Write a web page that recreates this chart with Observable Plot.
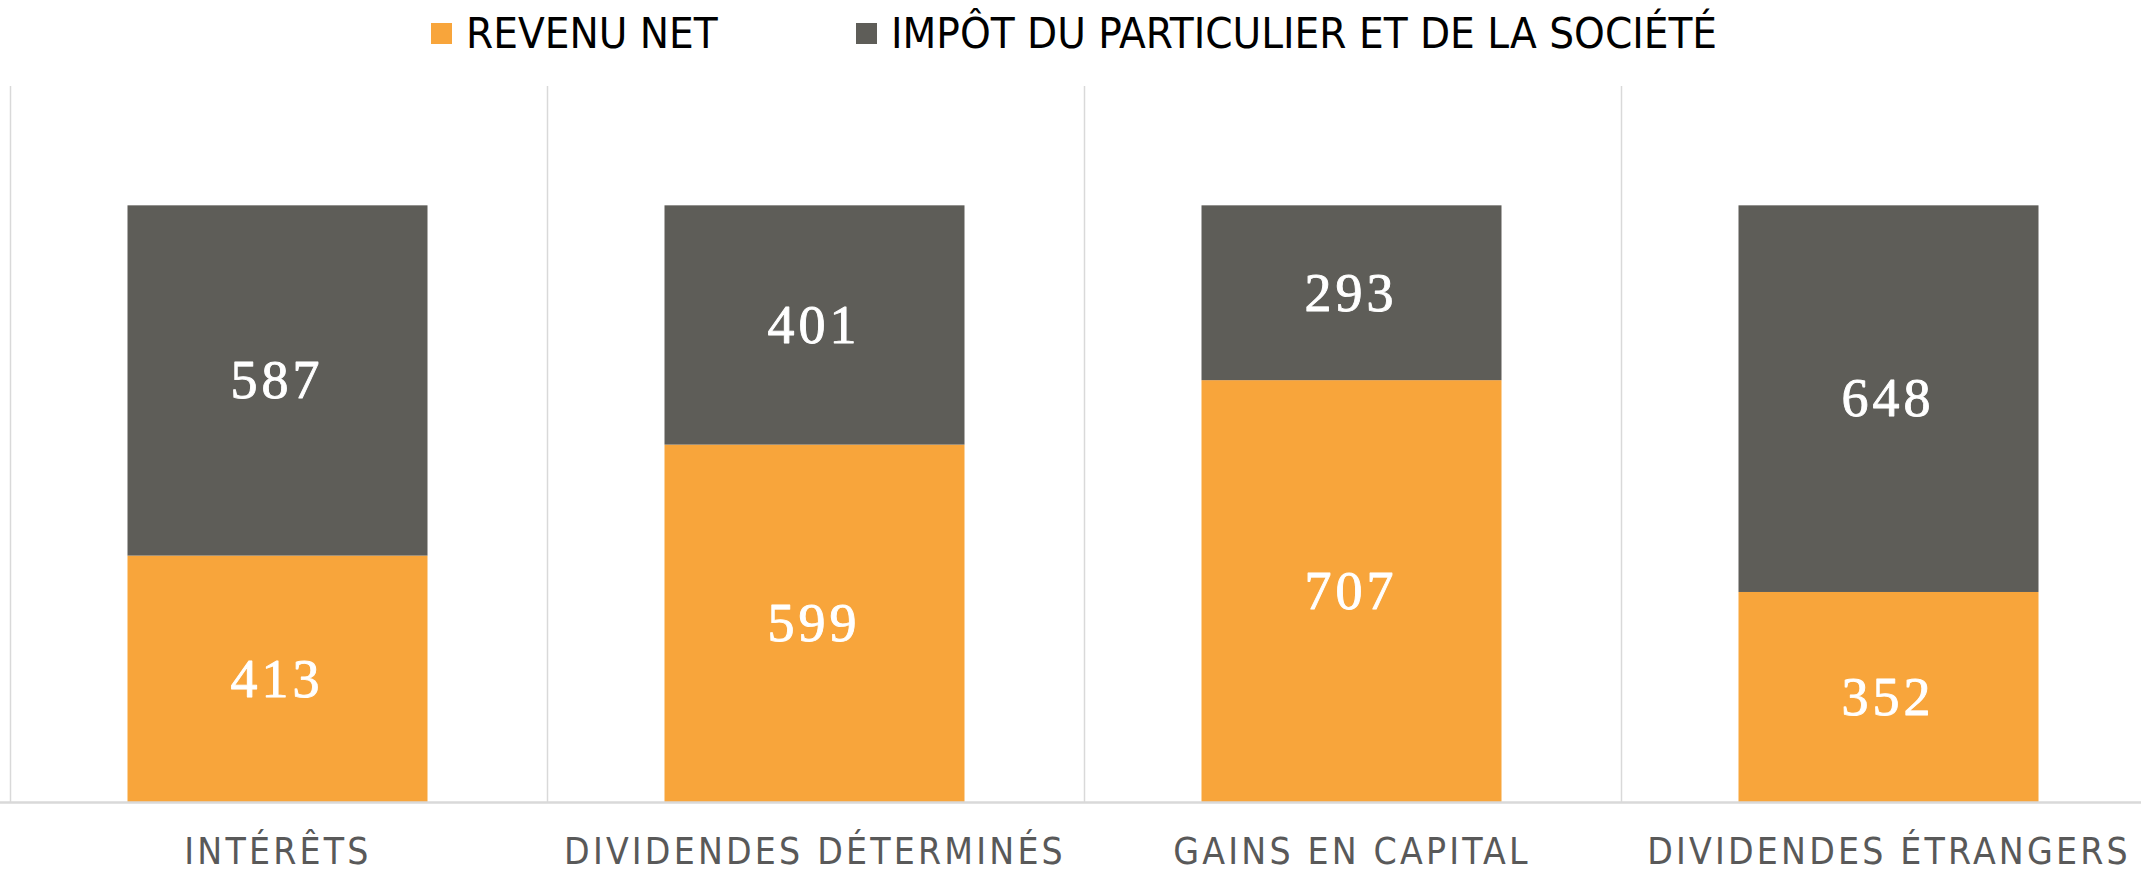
<!DOCTYPE html>
<html>
<head>
<meta charset="utf-8">
<script src="https://cdn.jsdelivr.net/npm/d3@7"></script>
<script src="https://cdn.jsdelivr.net/npm/@observablehq/plot@0.6"></script>
<style>
  html, body { margin: 0; padding: 0; background: #fff; width: 2141px; height: 869px; overflow: hidden; }
  #legend { height: 66px; display: flex; align-items: center; padding-left: 431px;
    font-family: "Liberation Sans Narrow", "Arial Narrow", "DejaVu Sans Condensed", "Liberation Sans", sans-serif;
    font-size: 43.5px; color: #000; }
  .item { display: flex; align-items: center; }
  .item1 { width: 425px; }
  .sw { width: 21px; height: 21px; margin-right: 14px; }
  .chart g[aria-label="x-axis tick label"] text { letter-spacing: 3.2px; }
  .chart g[aria-label="text"] text { letter-spacing: 4px; }
</style>
</head>
<body>
<div id="legend"></div>
<div id="chart"></div>
<script>
const categories = ["INTÉRÊTS", "DIVIDENDES DÉTERMINÉS", "GAINS EN CAPITAL", "DIVIDENDES ÉTRANGERS"];
const seriesNames = ["REVENU NET", "IMPÔT DU PARTICULIER ET DE LA SOCIÉTÉ"];
const revenuNet = [413, 599, 707, 352];
const impot = [587, 401, 293, 648];
const colors = ["#F8A53B", "#5E5D58"];

const data = [];
categories.forEach((c, i) => {
  data.push({cat: c, series: seriesNames[0], value: revenuNet[i]});
  data.push({cat: c, series: seriesNames[1], value: impot[i]});
});

// legend
const legend = document.getElementById("legend");
seriesNames.forEach((s, i) => {
  const it = document.createElement("div");
  it.className = "item" + (i === 0 ? " item1" : "");
  const sw = document.createElement("div");
  sw.className = "sw";
  sw.style.background = colors[i];
  const t = document.createElement("span");
  t.textContent = s;
  it.appendChild(sw); it.appendChild(t);
  legend.appendChild(it);
});

const xRange = [9, 2157];
const step = (xRange[1] - xRange[0]) / categories.length;

const chart = Plot.plot({
  className: "chart",
  width: 2141,
  height: 803,
  marginTop: 20,
  marginBottom: 67,
  marginLeft: 0,
  marginRight: 0,
  style: {background: "#fff", overflow: "visible"},
  x: {domain: categories, range: xRange, padding: 0, label: null},
  y: {domain: [0, 1200], axis: null},
  color: {domain: seriesNames, range: colors},
  marks: [
    Plot.ruleX(categories, {x: d => d, dx: -step / 2 + 1, stroke: "#d9d9d9", strokeWidth: 1.5}),
    Plot.barY(data, {x: "cat", y: "value", fill: "series", insetLeft: 118.5, insetRight: 118.5, order: seriesNames}),
    Plot.ruleY([0], {stroke: "#d9d9d9", strokeWidth: 2.5}),
    Plot.text(data, Plot.stackY({x: "cat", y: "value", z: "series", order: seriesNames, text: d => String(d.value),
      fill: "white", stroke: "white", strokeWidth: 0.9, fontSize: 54,
      fontFamily: "Liberation Serif, Times New Roman, serif", dx: -1})),
    Plot.axisX({tickSize: 0, tickPadding: 35, fontSize: 37, fill: "#595959",
      fontFamily: "Liberation Sans Narrow, Arial Narrow, DejaVu Sans Condensed, Liberation Sans, sans-serif", label: null})
  ]
});
document.getElementById("chart").appendChild(chart);
</script>
</body>
</html>
